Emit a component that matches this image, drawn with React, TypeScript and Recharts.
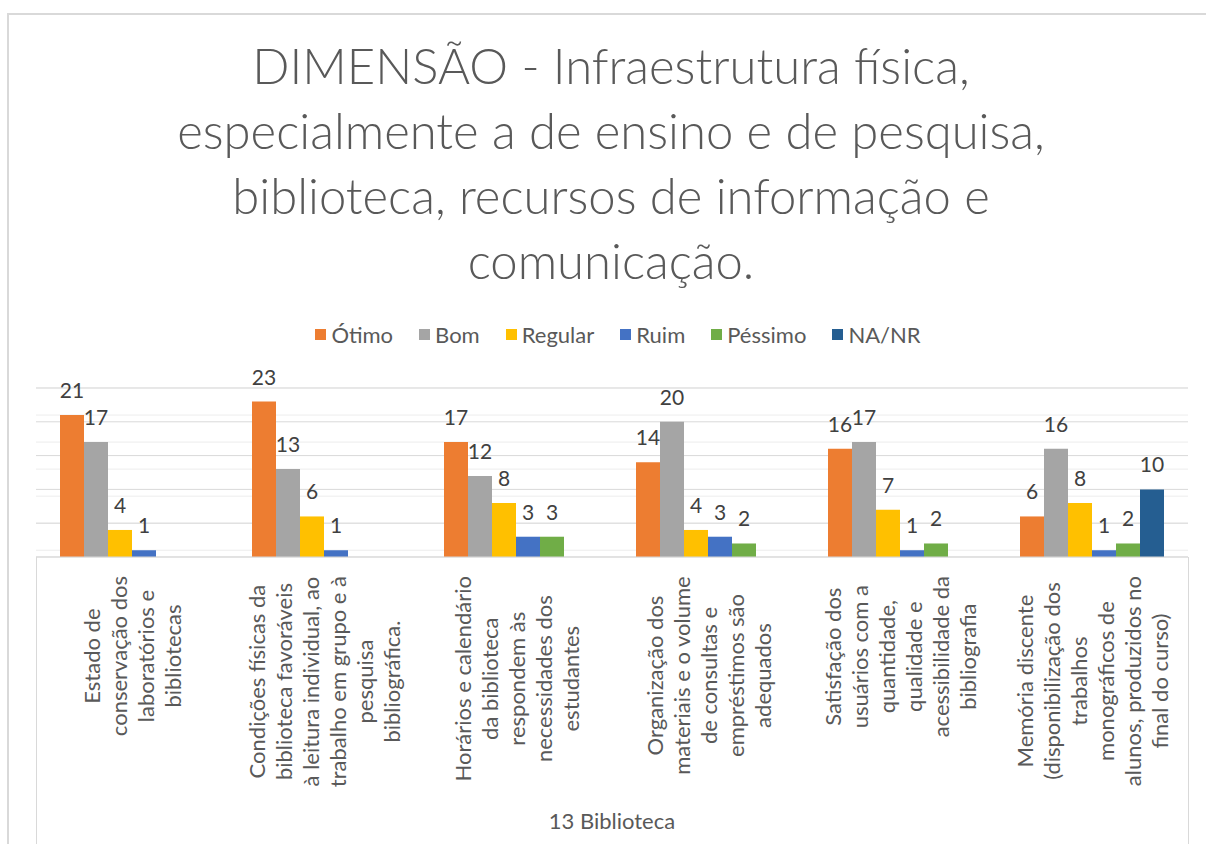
import React from 'react';
import { BarChart, Bar, XAxis, YAxis, CartesianGrid, LabelList, Legend } from 'recharts';

const titleLines = [
  'DIMENSÃO - Infraestrutura física,',
  'especialmente a de ensino e de pesquisa,',
  'biblioteca, recursos de informação e',
  'comunicação.',
];
const axisTitle = '13 Biblioteca';

const categories = [
  'Estado de\nconservação dos\nlaboratórios e\nbibliotecas',
  'Condições físicas da\nbiblioteca favoráveis\nà leitura individual, ao\ntrabalho em grupo e à\npesquisa\nbibliográfica.',
  'Horários e calendário\nda biblioteca\nrespondem às\nnecessidades dos\nestudantes',
  'Organização dos\nmateriais e o volume\nde consultas e\nempréstimos são\nadequados',
  'Satisfação dos\nusuários com a\nquantidade,\nqualidade e\nacessibilidade da\nbibliografia',
  'Memória discente\n(disponibilização dos\ntrabalhos\nmonográficos de\nalunos, produzidos no\nfinal do curso)',
];

const otimo = [21, 23, 17, 14, 16, 6];
const bom = [17, 13, 12, 20, 17, 16];
const regular = [4, 6, 8, 4, 7, 8];
const ruim = [1, 1, 3, 3, 1, 1];
const pessimo = [0, 0, 3, 2, 2, 2];
const nanr = [0, 0, 0, 0, 0, 10];

const seriesNames = ['Ótimo', 'Bom', 'Regular', 'Ruim', 'Péssimo', 'NA/NR'];
const seriesColors = ['#ED7D31', '#A5A5A5', '#FFC000', '#4472C4', '#70AD47', '#255E91'];
const seriesValues = [otimo, bom, regular, ruim, pessimo, nanr];

const yMinorTicks = [0, 1, 2, 3, 4, 5, 6, 7, 8, 9, 10, 11, 12, 13, 14, 15, 16, 17, 18, 19, 20, 21, 22, 23, 24, 25];
const yMajorTicks = [0, 5, 10, 15, 20, 25];

const data = categories.map((cat, i) => {
  const row: Record<string, string | number> = { cat };
  seriesValues.forEach((vals, s) => {
    row['s' + s] = vals[i];
  });
  return row;
});

const FONT = 'Lato, "Open Sans", sans-serif';
const TEXT = '#595959';
const LINE = '#d9d9d9';

const W = 1206;
const H = 844;
const PLOT_LEFT = 36;
const PLOT_RIGHT = 1188;
const PLOT_TOP = 388;
const PLOT_BOTTOM = 557;
const AXIS_H = 280;

const LBL_SIZE = 22;
const LBL_GAP = 27;
const LBL_TOP_PAD = 19;

let measureCtx: CanvasRenderingContext2D | null = null;
function textWidth(s: string, font: string): number {
  if (!measureCtx) {
    const c = document.createElement('canvas');
    measureCtx = c.getContext('2d');
  }
  if (!measureCtx) return s.length * LBL_SIZE * 0.5;
  measureCtx.font = font;
  return measureCtx.measureText(s).width;
}

function CategoryTick(props: any) {
  const { x, y, payload } = props;
  const lines = String(payload.value).split('\n');
  const maxLen = Math.max(...lines.map((l) => textWidth(l, `${LBL_SIZE}px Lato`)));
  const n = lines.length;
  return (
    <g transform={`translate(${x},${y + LBL_TOP_PAD}) rotate(-90)`}>
      {lines.map((l, i) => (
        <text
          key={i}
          x={-maxLen / 2}
          y={(i - (n - 1) / 2) * LBL_GAP}
          textAnchor="middle"
          dominantBaseline="central"
          fontSize={LBL_SIZE}
          fontFamily={FONT}
          fill={TEXT}
        >
          {l}
        </text>
      ))}
    </g>
  );
}

function LegendContent() {
  return (
    <div style={{ display: 'flex', justifyContent: 'center', gap: 26, fontFamily: FONT, fontSize: 22, color: TEXT }}>
      {seriesNames.map((name, i) => (
        <div key={name} style={{ display: 'flex', alignItems: 'center' }}>
          <span style={{ display: 'inline-block', width: 11, height: 11, background: seriesColors[i], marginRight: 5 }} />
          <span>{name}</span>
        </div>
      ))}
    </div>
  );
}

export default function App() {
  return (
    <div style={{ position: 'absolute', left: 0, top: 0, width: W, height: H, overflow: 'hidden', background: '#fff' }}>
      <div style={{ position: 'absolute', left: 7, top: 13, width: 1220, height: 900, border: `2px solid ${LINE}`, boxSizing: 'border-box' }} />
      <div
        style={{
          position: 'absolute',
          left: 0,
          top: 33,
          width: 1222,
          textAlign: 'center',
          fontFamily: FONT,
          fontWeight: 300,
          fontSize: 49,
          lineHeight: '65px',
          color: TEXT,
        }}
      >
        {titleLines.map((t, i) => (
          <div key={i}>{t}</div>
        ))}
      </div>
      <div style={{ position: 'absolute', left: PLOT_LEFT, top: PLOT_BOTTOM, width: 0, height: 300, borderLeft: `1px solid ${LINE}` }} />
      <div style={{ position: 'absolute', left: PLOT_RIGHT, top: PLOT_BOTTOM, width: 0, height: 300, borderLeft: `1px solid ${LINE}` }} />
      <div style={{ position: 'absolute', left: 0, top: 0 }}>
        <BarChart
          width={W}
          height={H}
          data={data}
          margin={{ top: PLOT_TOP, right: W - PLOT_RIGHT, bottom: H - PLOT_BOTTOM - AXIS_H, left: PLOT_LEFT }}
          barCategoryGap="12.5%"
          barGap={0}
        >
          <CartesianGrid vertical={false} horizontalValues={yMinorTicks} stroke="#ededed" />
          <CartesianGrid vertical={false} horizontalValues={yMajorTicks} stroke={LINE} />
          <YAxis hide type="number" domain={[0, 25]} ticks={yMajorTicks} />
          <XAxis
            dataKey="cat"
            interval={0}
            height={AXIS_H}
            tickLine={false}
            tickSize={0}
            tickMargin={0}
            axisLine={{ stroke: LINE }}
            tick={(p: any) => <CategoryTick {...p} />}
            label={{ value: axisTitle, position: 'insideBottom', offset: 8, fill: TEXT, fontSize: 22, fontFamily: FONT }}
          />
          <Legend
            layout="horizontal"
            verticalAlign="middle"
            align="center"
            wrapperStyle={{ top: 321, left: 15, width: W }}
            content={() => <LegendContent />}
          />
          {seriesNames.map((name, s) => (
            <Bar key={name} dataKey={'s' + s} name={name} fill={seriesColors[s]} isAnimationActive={false}>
              <LabelList
                dataKey={'s' + s}
                position="top"
                offset={17}
                fill="#404040"
                fontSize={21}
                fontFamily={FONT}
                formatter={(v: any) => (v === 0 ? '' : v)}
              />
            </Bar>
          ))}
        </BarChart>
      </div>
    </div>
  );
}
